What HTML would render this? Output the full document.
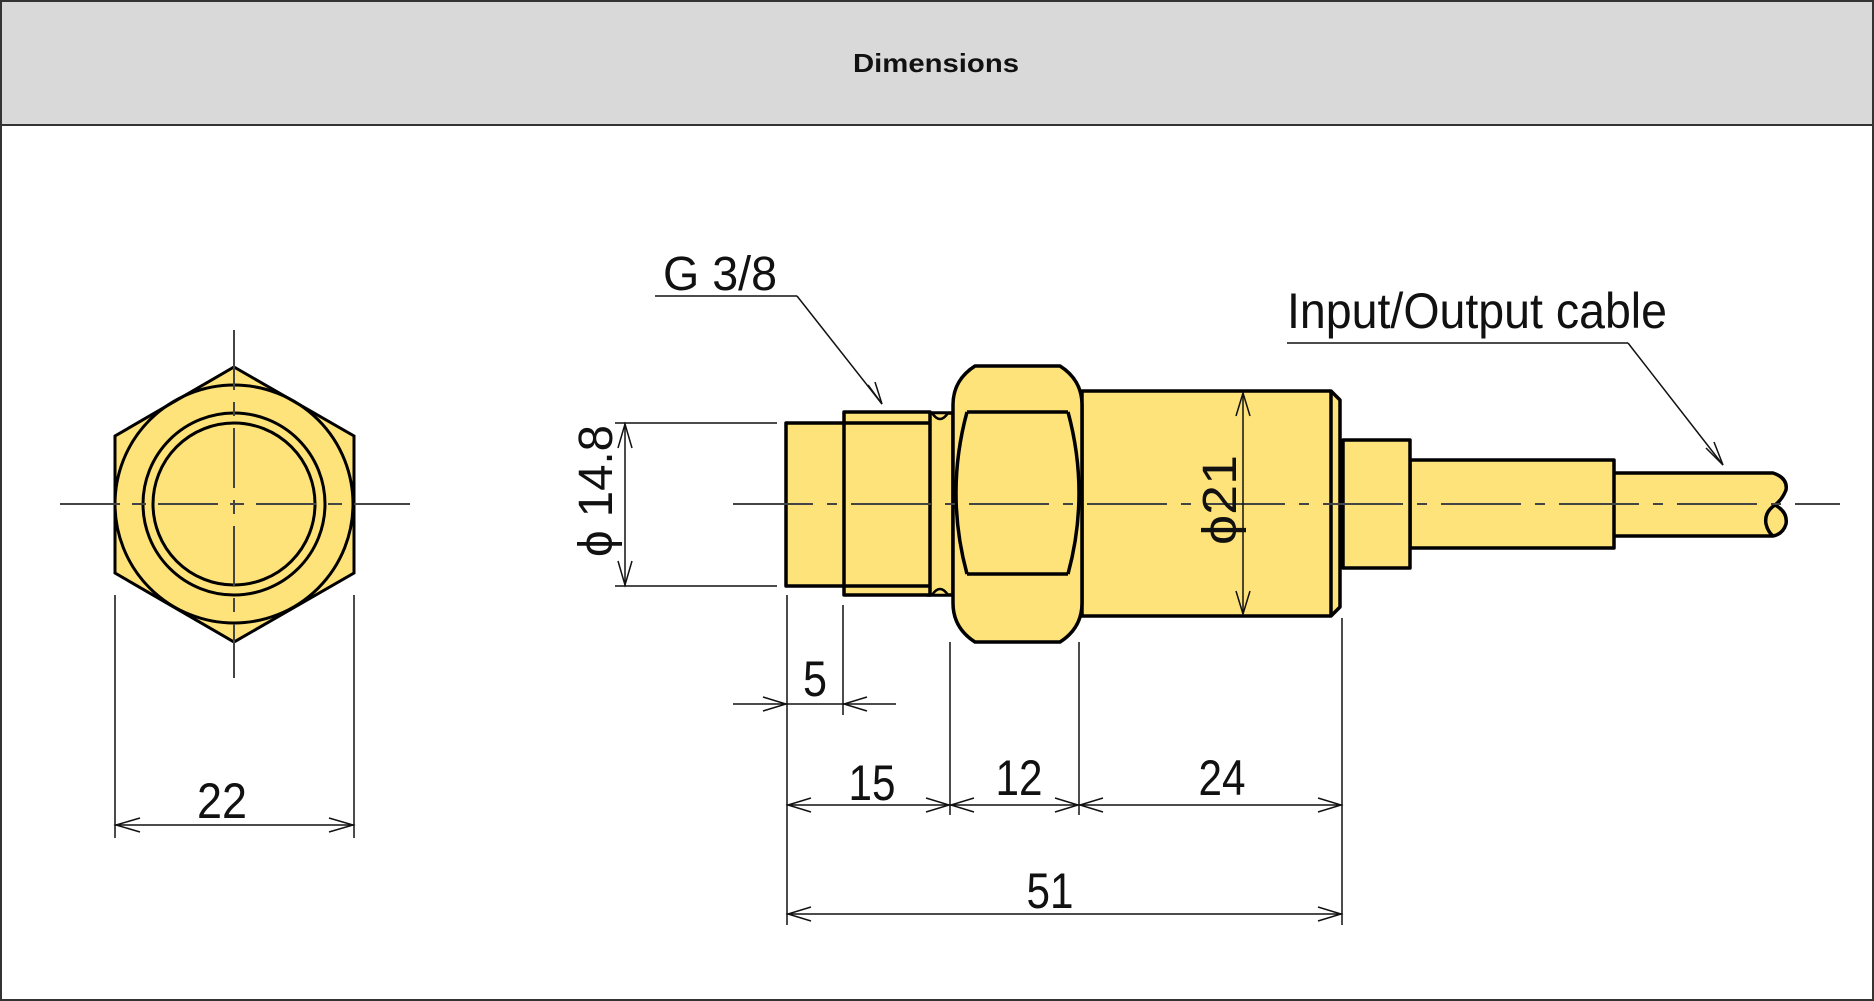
<!DOCTYPE html>
<html><head><meta charset="utf-8"><style>
html,body{margin:0;padding:0;background:#fff}
svg{display:block}
text{font-family:"Liberation Sans",Arial,sans-serif;fill:#111}
</style></head><body>
<svg width="1874" height="1001" viewBox="0 0 1874 1001" xmlns="http://www.w3.org/2000/svg">
<rect x="1" y="1" width="1872" height="999" fill="#fff" stroke="#333" stroke-width="2"/>
<rect x="1" y="1" width="1872" height="124" fill="#d9d9d9" stroke="#333" stroke-width="2"/>
<text x="936" y="72" font-size="26" font-weight="bold" text-anchor="middle" textLength="166" lengthAdjust="spacingAndGlyphs">Dimensions</text>

<g stroke="#000" stroke-width="3" fill="#fee27a">
<polygon points="234,367 354,436 354,573 234,642 115,573 115,436"/>
<circle cx="234" cy="504" r="119" fill="none"/>
<circle cx="234" cy="504" r="91"/>
<circle cx="234" cy="504" r="81"/>
</g>
<g stroke="#444" stroke-width="2" fill="none">
<line x1="60" y1="504" x2="410" y2="504" stroke-dasharray="60,12,14,12"/>
<line x1="234" y1="330" x2="234" y2="678" stroke-dasharray="60,12,14,12"/>
</g>
<g stroke="#111" stroke-width="1.5" fill="none">
<line x1="115" y1="595" x2="115" y2="838"/>
<line x1="354" y1="595" x2="354" y2="838"/>
<line x1="115" y1="825" x2="354" y2="825"/>
<polyline points="140,818 116,825 140,832"/>
<polyline points="329,818 353,825 329,832"/>
</g>
<g font-size="50" text-anchor="middle">
<text x="222" y="818" textLength="50" lengthAdjust="spacingAndGlyphs">22</text>
</g>

<g stroke="#000" stroke-width="3.5" fill="#fee27a" stroke-linejoin="round">
<path d="M1612,473 L1773,473 Q1788,478 1786,490 Q1782,500 1775,505 Q1788,512 1786,524 Q1783,534 1773,536 L1612,536 Z"/>
<path d="M1775,505 Q1764,512 1766,524 Q1768,532 1773,536" fill="none"/>
<rect x="1410" y="460" width="204" height="88"/>
<rect x="1343" y="440" width="67" height="128"/>
<path d="M1082,391 L1331,391 L1340,400 L1340,607 L1331,616 L1082,616 Z"/>
<line x1="1331" y1="391" x2="1331" y2="616"/>
<path d="M927,413 L953,413 L953,595 L927,595 Z"/>
<rect x="786" y="423" width="60" height="163"/>
<rect x="844" y="412" width="86" height="183"/>
<line x1="844" y1="423" x2="930" y2="423"/>
<line x1="844" y1="586" x2="930" y2="586"/>
<path d="M975,366 L1060,366 Q1082,380 1082,405 L1082,603 Q1082,628 1060,642 L975,642 Q953,628 953,603 L953,405 Q953,380 975,366 Z"/>
<line x1="967" y1="412" x2="1068" y2="412"/>
<line x1="967" y1="574" x2="1068" y2="574"/>
<path d="M967,412 Q945,493 967,574" fill="none"/>
<path d="M1068,412 Q1090,493 1068,574" fill="none"/>
</g>
<g stroke="#000" stroke-width="2.5">
<path d="M932,413 Q940,425 948,413 Z" fill="#fee27a"/>
<path d="M932,595 Q940,583 948,595 Z" fill="#fee27a"/>
</g>
<line x1="733" y1="504" x2="1840" y2="504" stroke="#444" stroke-width="2" stroke-dasharray="80,14,10,14"/>

<g stroke="#111" stroke-width="1.5" fill="none">
<line x1="655" y1="296" x2="797" y2="296"/>
<line x1="797" y1="296" x2="882" y2="404"/>
<polyline points="868,385 882,404 875,382"/>
<line x1="1287" y1="343" x2="1628" y2="343"/>
<line x1="1628" y1="343" x2="1723" y2="465"/>
<polyline points="1706,448 1723,465 1714,442"/>
</g>
<text x="663" y="290" font-size="48" textLength="114" lengthAdjust="spacingAndGlyphs">G 3/8</text>
<text x="1287" y="328" font-size="50" textLength="380" lengthAdjust="spacingAndGlyphs">Input/Output cable</text>

<g stroke="#111" stroke-width="1.5" fill="none">
<line x1="615" y1="423" x2="777" y2="423"/>
<line x1="615" y1="586" x2="777" y2="586"/>
<line x1="625" y1="423" x2="625" y2="586"/>
<polyline points="618,448 625,424 632,448"/>
<polyline points="618,561 625,585 632,561"/>
<line x1="1243" y1="392" x2="1243" y2="615"/>
<polyline points="1236,416 1243,393 1250,416"/>
<polyline points="1236,591 1243,614 1250,591"/>
</g>
<text transform="translate(612,491) rotate(-90)" font-size="48" text-anchor="middle" textLength="132" lengthAdjust="spacingAndGlyphs">ϕ 14.8</text>
<text transform="translate(1236,500) rotate(-90)" font-size="48" text-anchor="middle" textLength="90" lengthAdjust="spacingAndGlyphs">ϕ21</text>

<g stroke="#111" stroke-width="1.5" fill="none">
<line x1="787" y1="595" x2="787" y2="925"/>
<line x1="843" y1="605" x2="843" y2="715"/>
<line x1="950" y1="642" x2="950" y2="815"/>
<line x1="1079" y1="642" x2="1079" y2="815"/>
<line x1="1342" y1="618" x2="1342" y2="925"/>
<line x1="733" y1="704" x2="896" y2="704"/>
<polyline points="763,697 786,704 763,711"/>
<polyline points="867,697 844,704 867,711"/>
<line x1="787" y1="805" x2="1342" y2="805"/>
<polyline points="811,798 788,805 811,812"/>
<polyline points="926,798 949,805 926,812"/>
<polyline points="974,798 951,805 974,812"/>
<polyline points="1055,798 1078,805 1055,812"/>
<polyline points="1103,798 1080,805 1103,812"/>
<polyline points="1318,798 1341,805 1318,812"/>
<line x1="787" y1="914" x2="1342" y2="914"/>
<polyline points="811,907 788,914 811,921"/>
<polyline points="1318,907 1341,914 1318,921"/>
</g>
<g font-size="50" text-anchor="middle">
<text x="815" y="696" textLength="24" lengthAdjust="spacingAndGlyphs">5</text>
<text x="872" y="800" textLength="47" lengthAdjust="spacingAndGlyphs">15</text>
<text x="1019" y="795" textLength="47" lengthAdjust="spacingAndGlyphs">12</text>
<text x="1222" y="795" textLength="47" lengthAdjust="spacingAndGlyphs">24</text>
<text x="1050" y="908" textLength="47" lengthAdjust="spacingAndGlyphs">51</text>
</g>
</svg>
</body></html>
